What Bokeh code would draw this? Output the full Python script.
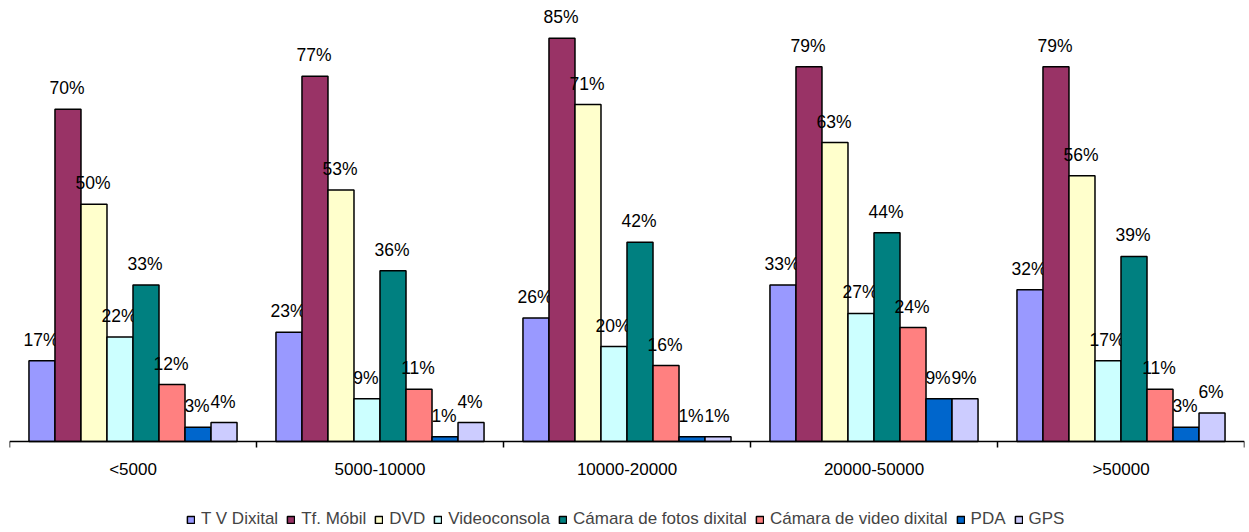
from bokeh.plotting import figure
from bokeh.models import ColumnDataSource, FixedTicker, Legend, LegendItem, Range1d
from bokeh.core.properties import value
from bokeh.embed import file_html
from bokeh.resources import INLINE

categories = ["<5000", "5000-10000", "10000-20000", "20000-50000", ">50000"]
series_names = ["T V Dixital", "Tf. Móbil", "DVD", "Videoconsola",
                "Cámara de fotos dixital", "Cámara de video dixital", "PDA", "GPS"]
tv_dixital = [17, 23, 26, 33, 32]
tf_mobil = [70, 77, 85, 79, 79]
dvd = [50, 53, 71, 63, 56]
videoconsola = [22, 9, 20, 27, 17]
camara_fotos = [33, 36, 42, 44, 39]
camara_video = [12, 11, 16, 24, 11]
pda = [3, 1, 1, 9, 3]
gps = [4, 4, 1, 9, 6]
series_values = [tv_dixital, tf_mobil, dvd, videoconsola, camara_fotos, camara_video, pda, gps]
colors = ["#9999FF", "#993366", "#FFFFCC", "#CCFFFF", "#008080", "#FF8080", "#0066CC", "#CCCCFF"]

FONT = "Liberation Sans"
n_series = len(series_names)
bar_w = 0.1053
group_pad = (1 - bar_w * n_series) / 2

p = figure(width=1246, height=532, x_range=Range1d(0, len(categories)),
           y_range=Range1d(-19.18, 92.94), output_backend="svg", toolbar_location=None,
           min_border_left=9, min_border_right=2, min_border_top=0, min_border_bottom=0)
p.outline_line_color = None
p.grid.visible = False
p.yaxis.visible = False
p.background_fill_color = "white"
p.border_fill_color = "white"

items = []
for j, (name, vals, col) in enumerate(zip(series_names, series_values, colors)):
    xs = [i + group_pad + bar_w * (j + 0.5) for i in range(len(categories))]
    src = ColumnDataSource(dict(x=xs, top=vals, label=[f"{v}%" for v in vals]))
    r = p.vbar(x="x", top="top", bottom=0, width=bar_w, source=src,
               fill_color=col, line_color="black", line_width=1.5)
    p.text(x="x", y="top", text="label", source=src, text_align="center",
           text_baseline="alphabetic", y_offset=-21, x_offset=-1,
           text_font=value(FONT), text_font_size="17.5px", text_color="black")
    items.append(LegendItem(label=name, renderers=[r]))

ax = p.xaxis[0]
ax.fixed_location = 0
ax.ticker = FixedTicker(ticks=[i + 0.5 for i in range(len(categories))],
                        minor_ticks=list(range(len(categories) + 1)))
ax.major_label_overrides = {i + 0.5: c for i, c in enumerate(categories)}
ax.major_tick_out = 0
ax.major_tick_in = 0
ax.minor_tick_out = 6
ax.minor_tick_in = 0
ax.minor_tick_line_color = "black"
ax.minor_tick_line_width = 1.5
ax.axis_line_color = "black"
ax.axis_line_width = 1.5
ax.major_label_standoff = 13
ax.major_label_text_font = FONT
ax.major_label_text_font_size = "17px"
ax.major_label_text_color = "black"

legend = Legend(items=items, orientation="horizontal", location=(177, 3),
                label_text_font=FONT, label_text_font_size="17px",
                glyph_width=9, glyph_height=9, label_standoff=6, spacing=8,
                padding=0, margin=0, border_line_color=None,
                background_fill_alpha=0, label_width=0)
p.add_layout(legend, "center")

open("out.html", "w").write(file_html(p, INLINE))
